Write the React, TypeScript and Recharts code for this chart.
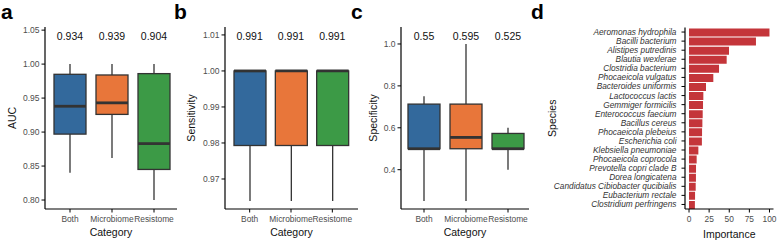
import React from 'react';
import { ComposedChart, BarChart, Bar, Line, XAxis, YAxis } from 'recharts';

const categories = ['Both', 'Microbiome', 'Resistome'];
const boxColors = ['#33699c', '#e8763a', '#3c9a46'];

// panel a - AUC
const aucMin = [0.84, 0.862, 0.8];
const aucQ1 = [0.897, 0.926, 0.845];
const aucMed = [0.938, 0.943, 0.883];
const aucQ3 = [0.985, 0.984, 0.986];
const aucMax = [1.0, 1.0, 1.0];
const aucLabels = ['0.934', '0.939', '0.904'];

// panel b - sensitivity
const sensMin = [0.9639, 0.9639, 0.9639];
const sensQ1 = [0.9793, 0.9793, 0.9793];
const sensMed = [1.0, 1.0, 1.0];
const sensQ3 = [1.0, 1.0, 1.0];
const sensMax = [1.0, 1.0, 1.0];
const sensLabels = ['0.991', '0.991', '0.991'];

// panel c - specificity
const specMin = [0.25, 0.25, 0.4];
const specQ1 = [0.5, 0.5, 0.5];
const specMed = [0.5, 0.554, 0.5];
const specQ3 = [0.713, 0.713, 0.573];
const specMax = [0.75, 1.0, 0.6];
const specLabels = ['0.55', '0.595', '0.525'];

// panel d - importance
const species = [
  'Aeromonas hydrophila', 'Bacilli bacterium', 'Alistipes putredinis', 'Blautia wexlerae',
  'Clostridia bacterium', 'Phocaeicola vulgatus', 'Bacteroides uniformis', 'Lactococcus lactis',
  'Gemmiger formicilis', 'Enterococcus faecium', 'Bacillus cereus', 'Phocaeicola plebeius',
  'Escherichia coli', 'Klebsiella pneumoniae', 'Phocaeicola coprocola', 'Prevotella copri clade B',
  'Dorea longicatena', 'Candidatus Cibiobacter qucibialis', 'Eubacterium rectale', 'Clostridium perfringens',
];
const importance = [100, 83.2, 49.7, 46.8, 37.3, 30.2, 21.1, 17.8, 17.4, 17, 16.6, 16.2, 16, 11.6, 9.5, 8.7, 8.6, 8.3, 7.5, 7.3];
const importanceTicks = [0, 25, 50, 75, 100];

const FONT = '"Liberation Sans", Arial, Helvetica, sans-serif';
const EDGE = '#333333';
const TICK_TEXT = '#4d4d4d';

const buildRows = (mins: number[], q1s: number[], meds: number[], q3s: number[], maxs: number[], labels: string[], labelAt: number) =>
  categories.map((cat, i) => ({
    cat,
    min: mins[i],
    q1: q1s[i],
    med: meds[i],
    q3: q3s[i],
    max: maxs[i],
    label: labels[i],
    labelAt,
    color: boxColors[i],
  }));

const BoxShape = (props: any) => {
  const { x, y, width, height, payload } = props;
  const top = Math.min(y, y + height);
  const h = Math.abs(height);
  const { min, q1, med, q3, max } = payload;
  const py = (v: number) => top + (h * (max - v)) / (max - min);
  const cx = x + width / 2;
  return (
    <g>
      <line x1={cx} x2={cx} y1={py(max)} y2={py(q3)} stroke={EDGE} strokeWidth={1.3} />
      <line x1={cx} x2={cx} y1={py(q1)} y2={py(min)} stroke={EDGE} strokeWidth={1.3} />
      <rect x={x} y={py(q3)} width={width} height={py(q1) - py(q3)} fill={payload.color} stroke={EDGE} strokeWidth={1.3} />
      <line x1={x} x2={x + width} y1={py(med)} y2={py(med)} stroke={EDGE} strokeWidth={2.8} />
    </g>
  );
};

const ValueText = (props: any) => {
  const { cx, cy, payload, index } = props;
  return (
    <text key={`v-${index}`} x={cx} y={cy} textAnchor="middle" dominantBaseline="central" fontSize={10.5} fill="#111" fontFamily={FONT}>
      {payload.label}
    </text>
  );
};

const SpeciesTick = (props: any) => {
  const { x, y, payload } = props;
  return (
    <text x={x} y={y} textAnchor="end" dominantBaseline="central" fontSize={8.3} fontStyle="italic" fill="#333" fontFamily={FONT}>
      {payload.value}
    </text>
  );
};

const yTitle = (text: string, dx: number) => ({
  content: ({ viewBox }: any) => {
    const cx = viewBox.x + dx;
    const cy = viewBox.y + viewBox.height / 2;
    return (
      <text x={cx} y={cy} transform={`rotate(-90 ${cx} ${cy})`} textAnchor="middle" dominantBaseline="central" fontSize={10.5} fill="#111" fontFamily={FONT}>
        {text}
      </text>
    );
  },
});

const xTitle = (text: string, dy: number) => ({
  content: ({ viewBox }: any) => (
    <text x={viewBox.x + viewBox.width / 2} y={viewBox.y + dy} textAnchor="middle" dominantBaseline="central" fontSize={10.5} fill="#111" fontFamily={FONT}>
      {text}
    </text>
  ),
});

interface BoxPanelProps {
  rows: any[];
  left: number;
  width: number;
  yWidth: number;
  marginRight: number;
  padL: number;
  padR: number;
  domain: [number, number];
  ticks: number[];
  digits: number;
  title: string;
  titleDx: number;
}

const BoxPanel: React.FC<BoxPanelProps> = ({ rows, left, width, yWidth, marginRight, padL, padR, domain, ticks, digits, title, titleDx }) => (
  <div style={{ position: 'absolute', left, top: 0 }}>
    <ComposedChart width={width} height={240} data={rows} margin={{ top: 27, right: marginRight, bottom: 0, left: 0 }}>
      <XAxis
        dataKey="cat"
        type="category"
        height={31}
        interval={0}
        padding={{ left: padL, right: padR }}
        tickSize={3.5}
        tickMargin={4}
        tick={{ fontSize: 8.4, fill: TICK_TEXT, fontFamily: FONT }}
        axisLine={{ stroke: '#000', strokeWidth: 1.2 }}
        tickLine={{ stroke: '#000', strokeWidth: 1 }}
        label={xTitle('Category', 22.5)}
      />
      <YAxis
        type="number"
        width={yWidth}
        domain={domain}
        allowDataOverflow
        ticks={ticks}
        tickFormatter={(v: number) => v.toFixed(digits)}
        tickSize={3.5}
        tickMargin={2}
        tick={{ fontSize: 8.5, fill: TICK_TEXT, fontFamily: FONT }}
        axisLine={{ stroke: '#000', strokeWidth: 1.2 }}
        tickLine={{ stroke: '#000', strokeWidth: 1 }}
        label={yTitle(title, titleDx)}
      />
      <Bar dataKey={(d: any) => [d.min, d.max]} barSize={32} shape={<BoxShape />} isAnimationActive={false} />
      <Line dataKey="labelAt" stroke="none" dot={<ValueText />} activeDot={false} isAnimationActive={false} legendType="none" />
    </ComposedChart>
  </div>
);

const aucRows = buildRows(aucMin, aucQ1, aucMed, aucQ3, aucMax, aucLabels, 1.041);
const sensRows = buildRows(sensMin, sensQ1, sensMed, sensQ3, sensMax, sensLabels, 1.0097);
const specRows = buildRows(specMin, specQ1, specMed, specQ3, specMax, specLabels, 1.038);
const impRows = species.map((s, i) => ({ species: s, importance: importance[i] }));

export default function App() {
  return (
    <div style={{ position: 'absolute', left: 0, top: 0, width: 777, height: 240, background: '#fff', fontFamily: FONT }}>
      <BoxPanel rows={aucRows} left={0} width={185} yWidth={45} marginRight={8} padL={4} padR={2}
        domain={[0.7868, 1.0546]} ticks={[0.8, 0.85, 0.9, 0.95, 1.0, 1.05]} digits={2} title="AUC" titleDx={11.5} />
      <BoxPanel rows={sensRows} left={185} width={180} yWidth={40} marginRight={7} padL={4} padR={5}
        domain={[0.96167, 1.0122]} ticks={[0.97, 0.98, 0.99, 1.0, 1.01]} digits={2} title="Sensitivity" titleDx={5.5} />
      <BoxPanel rows={specRows} left={365} width={175} yWidth={36} marginRight={11} padL={2} padR={0}
        domain={[0.2124, 1.081]} ticks={[0.4, 0.6, 0.8, 1.0]} digits={1} title="Specificity" titleDx={8} />

      <div style={{ position: 'absolute', left: 540, top: 0 }}>
        <BarChart width={237} height={240} data={impRows} layout="vertical" margin={{ top: 27.5, right: 3.5, bottom: 0, left: 0 }}>
          <XAxis
            type="number"
            domain={[-5, 105]}
            allowDataOverflow
            ticks={importanceTicks}
            height={31}
            tickSize={3.5}
            tickMargin={4}
            tick={{ fontSize: 8.4, fill: TICK_TEXT, fontFamily: FONT }}
            axisLine={{ stroke: '#000', strokeWidth: 1.2 }}
            tickLine={{ stroke: '#000', strokeWidth: 1 }}
            label={xTitle('Importance', 24.5)}
          />
          <YAxis
            type="category"
            dataKey="species"
            width={145}
            interval={0}
            tickSize={3.5}
            tickMargin={5}
            tick={<SpeciesTick />}
            axisLine={{ stroke: '#000', strokeWidth: 1.2 }}
            tickLine={{ stroke: '#000', strokeWidth: 1 }}
            label={yTitle('Species', 11.5)}
          />
          <Bar dataKey="importance" fill="#c4353a" barSize={8} isAnimationActive={false} />
        </BarChart>
      </div>

      <svg width={777} height={240} style={{ position: 'absolute', left: 0, top: 0, pointerEvents: 'none' }}>
        <text x={1} y={19} fontSize={21} fontWeight="bold" fill="#000" fontFamily={FONT}>a</text>
        <text x={174} y={19} fontSize={21} fontWeight="bold" fill="#000" fontFamily={FONT}>b</text>
        <text x={351} y={19} fontSize={21} fontWeight="bold" fill="#000" fontFamily={FONT}>c</text>
        <text x={531} y={19} fontSize={21} fontWeight="bold" fill="#000" fontFamily={FONT}>d</text>
      </svg>
    </div>
  );
}
